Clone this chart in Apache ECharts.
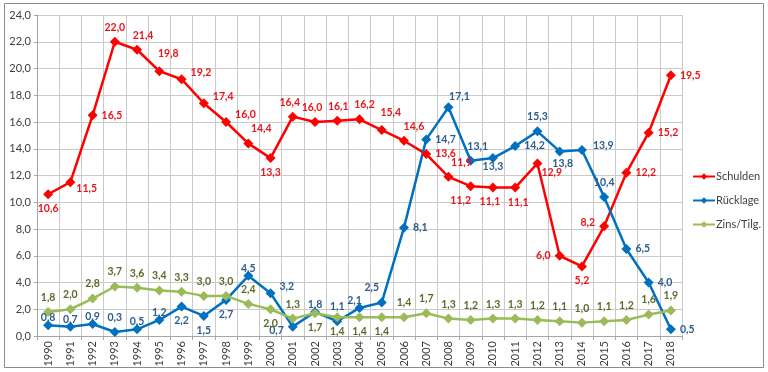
<!DOCTYPE html>
<html>
<head>
<meta charset="utf-8">
<script src="https://cdn.jsdelivr.net/npm/echarts@6/dist/echarts.min.js"></script>
<style>html,body{margin:0;padding:0;background:#fff}#c{width:768px;height:372px}</style>
</head>
<body>
<div id="c"></div>
<script>
// ---- data ----
const years = ['1990','1991','1992','1993','1994','1995','1996','1997','1998','1999','2000','2001','2002','2003','2004','2005','2006','2007','2008','2009','2010','2011','2012','2013','2014','2015','2016','2017','2018'];
const schulden = [10.6,11.5,16.5,22.0,21.4,19.8,19.2,17.4,16.0,14.4,13.3,16.4,16.0,16.1,16.2,15.4,14.6,13.6,11.9,11.2,11.1,11.1,12.9,6.0,5.2,8.2,12.2,15.2,19.5];
const ruecklage = [0.8,0.7,0.9,0.3,0.5,1.2,2.2,1.5,2.7,4.5,3.2,0.7,1.8,1.1,2.1,2.5,8.1,14.7,17.1,13.1,13.3,14.2,15.3,13.8,13.9,10.4,6.5,4.0,0.5];
const zinsTilg = [1.8,2.0,2.8,3.7,3.6,3.4,3.3,3.0,3.0,2.4,2.0,1.3,1.7,1.4,1.4,1.4,1.4,1.7,1.3,1.2,1.3,1.3,1.2,1.1,1.0,1.1,1.2,1.6,1.9];
const yTicks = [0,2,4,6,8,10,12,14,16,18,20,22,24];

// ---- label placement (style only) ----
const P = {
  t:  {position:'top', offset:[0,0]},
  tL3:{position:'top', offset:[-3,0]},
  tR1:{position:'top', offset:[1,0]},
  tR5:{position:'top', offset:[5,0]},
  tc: {position:'top', offset:[0,7]},
  tr6:{position:'top', offset:[6,0]},
  tr9:{position:'top', offset:[9,-3]},
  tr13:{position:'top', offset:[13,0]},
  tr10:{position:'top', offset:[10,0]},
  tr11:{position:'top', offset:[11,4]},
  tr7:{position:'top', offset:[7,0]},
  tl: {position:'top', offset:[-10,0]},
  tcl:{position:'top', offset:[-5,7]},
  b:  {position:'bottom', offset:[0,0]},
  bL3:{position:'bottom', offset:[-3,0]},
  bR3:{position:'bottom', offset:[3,1]},
  bRu:{position:'bottom', offset:[3,-2]},
  bu: {position:'bottom', offset:[0,-6]},
  bl: {position:'bottom', offset:[-10,0]},
  r:  {position:'right', offset:[0,0]},
  ru: {position:'right', offset:[0,-7]},
  rd: {position:'right', offset:[-3,6]},
  rd9:{position:'right', offset:[-5,9]},
  r2: {position:'right', offset:[2,-4]},
  l:  {position:'left', offset:[0,0]},
  lu: {position:'left', offset:[0,-4]},
  ld: {position:'left', offset:[0,4]}
};
const schuldenPos = ['b','rd','r','t','tr6','tr9','ru','ru','ru','tr13','b','tL3','tL3','tR1','tR5','tr9','tr10','r','tr13','bl','bL3','bR3','rd9','l','b','lu','r','r','r'];
const ruecklagePos = ['tc','tc','tc','t','tc','tc','b','b','b','tc','ru','ld','tc','t','tcl','tl','r','r','tr11','tr7','bu','r','t','bRu','r2','t','r','r','r'];
const zinsPos = ['t','t','t','t','t','t','t','t','t','t','b','t','b','b','b','b','t','t','t','t','t','t','t','t','t','t','t','t','t'];

const fmt = v => v.toFixed(1).replace('.', ',');
function mk(values, pos) {
  return values.map((v, i) => ({
    value: v,
    label: { position: P[pos[i]].position, offset: P[pos[i]].offset }
  }));
}
const FONT = 'Lato';
function series(name, values, pos, lineColor, labelColor) {
  return {
    name: name, type: 'line', data: mk(values, pos),
    symbol: 'diamond', symbolSize: 10,
    lineStyle: { color: lineColor, width: 2.5 },
    itemStyle: { color: lineColor },
    label: { show: true, color: labelColor, fontFamily: FONT, fontWeight: 'bold', fontSize: 10.5,
             distance: 4, formatter: p => fmt(p.value) },
    emphasis: { disabled: true },
    animation: false
  };
}

const chart = echarts.init(document.getElementById('c'), null, { renderer: 'canvas' });
chart.setOption({
  backgroundColor: '#fff',
  animation: false,
  grid: { left: 37, right: 86, top: 15, bottom: 36, containLabel: false },
  xAxis: {
    type: 'category', data: years, boundaryGap: true,
    axisLine: { lineStyle: { color: '#A6A6A6', width: 1 } },
    axisTick: { show: true, length: 4, lineStyle: { color: '#A6A6A6' } },
    splitLine: { show: true, lineStyle: { color: '#CACACA', width: 1 } },
    axisLabel: { rotate: 90, color: '#404040', fontFamily: FONT, fontSize: 11, margin: 5 }
  },
  yAxis: {
    type: 'value', min: yTicks[0], max: yTicks[yTicks.length - 1], interval: 2,
    axisLine: { show: true, lineStyle: { color: '#A6A6A6' } },
    axisTick: { show: true, length: 3, lineStyle: { color: '#A6A6A6' } },
    splitLine: { show: true, lineStyle: { color: '#CACACA', width: 1 } },
    axisLabel: { color: '#404040', fontFamily: FONT, fontSize: 11, margin: 6, formatter: v => fmt(v) }
  },
  legend: {
    orient: 'vertical', left: 687, top: 166, itemGap: 13,
    itemWidth: 22, itemHeight: 8,
    textStyle: { color: '#404040', fontFamily: FONT, fontSize: 11, padding: [0,0,0,-4] },
    data: ['Schulden', 'Rücklage', 'Zins/Tilg.']
  },
  graphic: [{
    type: 'rect', shape: { x: 4.5, y: 3.5, width: 759, height: 364 },
    style: { fill: 'none', stroke: '#8C8C8C', lineWidth: 1 }, silent: true, z: -1
  }],
  series: [
    series('Schulden', schulden, schuldenPos, '#FF0000', '#E8161C'),
    series('Rücklage', ruecklage, ruecklagePos, '#0070C0', '#2E5C8E'),
    series('Zins/Tilg.', zinsTilg, zinsPos, '#9BBB59', '#5A6B2A')
  ]
});
</script>
</body>
</html>
